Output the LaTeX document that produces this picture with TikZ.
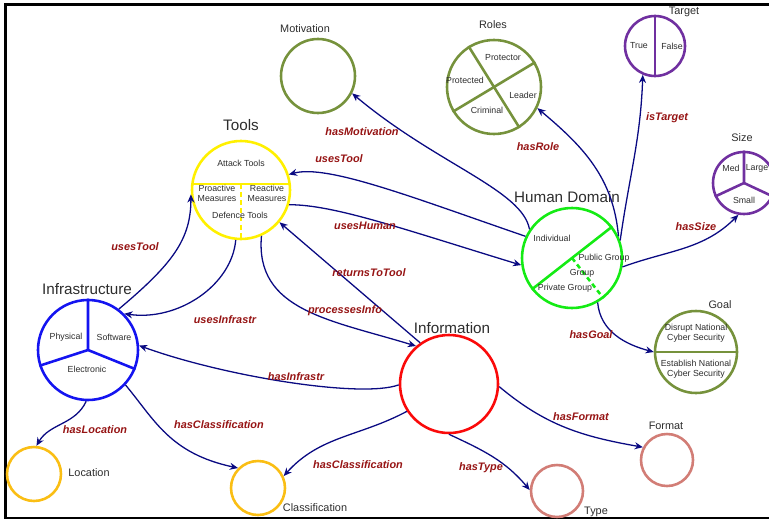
\documentclass[tikz,border=0pt]{standalone}
\usepackage{fontspec}
\setmainfont{Liberation Sans}
\usetikzlibrary{arrows.meta}
\definecolor{olivegr}{RGB}{118,146,60}
\definecolor{toolyel}{RGB}{255,240,0}
\definecolor{humgreen}{RGB}{20,235,20}
\definecolor{infblue}{RGB}{20,20,240}
\definecolor{infored}{RGB}{250,10,10}
\definecolor{purp}{RGB}{112,48,160}
\definecolor{goldor}{RGB}{250,190,20}
\definecolor{rose}{RGB}{210,125,118}
\definecolor{navyarr}{RGB}{10,10,130}
\definecolor{labred}{RGB}{150,20,20}
\definecolor{txtgray}{RGB}{45,45,45}
\tikzset{
    ring/.style={circle, draw, line width=2.2pt, minimum size=#1*0.06cm, inner sep=0pt},
    part/.style={line width=2.2pt},
    ttl/.style={font=\fontsize{9.3}{10}\selectfont, text=txtgray},
    bigttl/.style={font=\fontsize{13}{15}\selectfont, text=txtgray},
    txt/.style={font=\fontsize{7.5}{8.5}\selectfont, text=txtgray, align=center, inner sep=0pt},
    rel/.style={draw=navyarr, line width=1.1pt, -{Stealth[length=7pt,width=6pt]}},
    lab/.style={font=\fontsize{9.3}{10}\selectfont\bfseries\itshape, text=labred},
}
\begin{document}
\begin{tikzpicture}[x=0.03cm, y=0.03cm]
    \useasboundingbox (0,0) rectangle (769,520);
    \draw[line width=2.5pt] (769,515.5) -- (5.3,515.5) -- (5.3,2) -- (769,2);

    \node[ring=37, draw=olivegr] (motiv) at (318,444) {};
    \node[ring=47, draw=olivegr] (roles) at (494,433) {};
    \node[ring=30, draw=purp] (target) at (655,474) {};
    \node[ring=31, draw=purp] (size) at (744,337) {};
    \node[ring=49, draw=toolyel] (tools) at (241,330) {};
    \node[ring=50, draw=humgreen] (human) at (572,262) {};
    \node[ring=50, draw=infblue] (infra) at (88,170) {};
    \node[ring=49, draw=infored] (info) at (449,136) {};
    \node[ring=41, draw=olivegr] (goal) at (696,168) {};
    \node[ring=27, draw=goldor] (location) at (34,46) {};
    \node[ring=27, draw=goldor] (classif) at (258,32) {};
    \node[ring=26, draw=rose] (format) at (667,60) {};
    \node[ring=26, draw=rose] (type) at (557,29) {};

    \draw[part, olivegr] (roles.122) -- (roles.-58);
    \draw[part, olivegr] (roles.211) -- (roles.31);
    \draw[part, purp] (target.90) -- (target.-90);
    \draw[part, purp] (size.90) -- (size.center) -- (size.205);
    \draw[part, purp] (size.center) -- (size.-25);
    \draw[part, toolyel] (tools.173) -- (tools.7);
    \draw[part, toolyel, dash pattern=on 4pt off 3pt] (tools.7 -| tools.center) -- (tools.south);
    \draw[part, humgreen] (human.218) -- (human.38);
    \draw[part, humgreen, dash pattern=on 4pt off 3pt] (human.center) -- (human.-52);
    \draw[part, infblue] (infra.90) -- (infra.center) -- (infra.198);
    \draw[part, infblue] (infra.center) -- (infra.-22);
    \draw[part, olivegr] (goal.west) -- (goal.east);

    \node[ttl] (motivT) at (305,491) {Motivation};
    \node[ttl] (rolesT) at (493,495) {Roles};
    \node[ttl] (targetT) at (684,508) {Target};
    \node[ttl] (sizeT) at (742,382) {Size};
    \node[bigttl] (toolsT) at (241,395) {Tools};
    \node[bigttl] (humanT) at (567,323) {Human Domain};
    \node[bigttl] (infraT) at (87,231) {Infrastructure};
    \node[bigttl] (infoT) at (452,192) {Information};
    \node[ttl] (goalT) at (720,215) {Goal};
    \node[ttl] (locationT) at (89,47) {Location};
    \node[ttl] (classifT) at (315,12) {Classification};
    \node[ttl] (formatT) at (666,94) {Format};
    \node[ttl] (typeT) at (596,8) {Type};

    \node[txt] (rProtector) at (503,462) {Protector};
    \node[txt] (rProtected) at (465,440) {Protected};
    \node[txt] (rLeader) at (523,425) {Leader};
    \node[txt] (rCriminal) at (487,410) {Criminal};
    \node[txt] (tTrue) at (639,474) {True};
    \node[txt] (tFalse) at (672,474) {False};
    \node[txt] (sMed) at (731,352) {Med};
    \node[txt] (sLarge) at (757,352) {Large};
    \node[txt] (sSmall) at (744,320) {Small};
    \node[txt] (attack) at (241,357) {Attack Tools};
    \node[txt] (proact) at (217,327) {Proactive\\Measures};
    \node[txt] (react) at (267,327) {Reactive\\Measures};
    \node[txt] (defence) at (240,305) {Defence Tools};
    \node[txt] (hIndiv) at (552,282) {Individual};
    \node[txt] (hPublic) at (604,262) {Public Group};
    \node[txt] (hGroup) at (582,247) {Group};
    \node[txt] (hPrivate) at (565,232) {Private Group};
    \node[txt] (iPhys) at (66,183) {Physical};
    \node[txt] (iSoft) at (114,183) {Software};
    \node[txt] (iElec) at (87,151) {Electronic};
    \node[txt] (gDisrupt) at (696,187) {Disrupt National\\Cyber Security};
    \node[txt] (gEstab) at (696,151) {Establish National\\Cyber Security};

    \draw[rel] (human.146) .. controls +(100:40) and +(-40:110) .. (motiv.-27);
    \draw[rel] (human.25) to[out=95, in=-40] (roles.-26);
    \draw[rel] (human.20) to[out=82, in=-92] (target.-113);
    \draw[rel] (human.-10) to[out=20, in=-135] (size.-100);
    \draw[rel] (human.-60) to[out=-85, in=165] (goal.180);
    \draw[rel] (human.155) .. controls +(161:120) and +(15:40) .. (tools.18);
    \draw[rel] (tools.-17) .. controls +(0:45) and +(163:125) .. (human.188);
    \draw[rel] (info.125) -- (tools.-40);
    \draw[rel] (tools.-66) .. controls +(-95:75) and +(163:90) .. (info.131);
    \draw[rel] (tools.-96) .. controls +(-95:45) and +(-8:55) .. (infra.45);
    \draw[rel] (infra.53) .. controls +(40:70) and +(-90:45) .. (tools.185);
    \draw[rel] (info.181) .. controls +(200:40) and +(-20:90) .. (infra.5);
    \draw[rel] (infra.-92) to[out=-115, in=60] (location.85);
    \draw[rel] (infra.-43) .. controls +(-50:45) and +(168:70) .. (classif.135);
    \draw[rel] (info.213) to[out=208, in=48] (classif.25);
    \draw[rel] (info.-3) to[out=-40, in=170] (format.152);
    \draw[rel] (info.-90) to[out=-25, in=130] (type.178);

    \node[lab] (lMotiv) at (362,388) {hasMotivation};
    \node[lab] (lRole) at (538,373) {hasRole};
    \node[lab] (lTarget) at (667,402) {isTarget};
    \node[lab] (lSize) at (696,293) {hasSize};
    \node[lab] (lGoal) at (591,185) {hasGoal};
    \node[lab] (lToolA) at (339,361) {usesTool};
    \node[lab] (lHuman) at (365,294) {usesHuman};
    \node[lab] (lReturn) at (369,247) {returnsToTool};
    \node[lab] (lProc) at (345,209) {processesInfo};
    \node[lab] (lInfraA) at (225,200) {usesInfrastr};
    \node[lab] (lToolB) at (135,273) {usesTool};
    \node[lab] (lInfraB) at (296,143) {hasInfrastr};
    \node[lab] (lLoc) at (95,90) {hasLocation};
    \node[lab] (lClassA) at (219,95) {hasClassification};
    \node[lab] (lClassB) at (358,55) {hasClassification};
    \node[lab] (lFormat) at (581,103) {hasFormat};
    \node[lab] (lType) at (481,52) {hasType};
\end{tikzpicture}
\end{document}
